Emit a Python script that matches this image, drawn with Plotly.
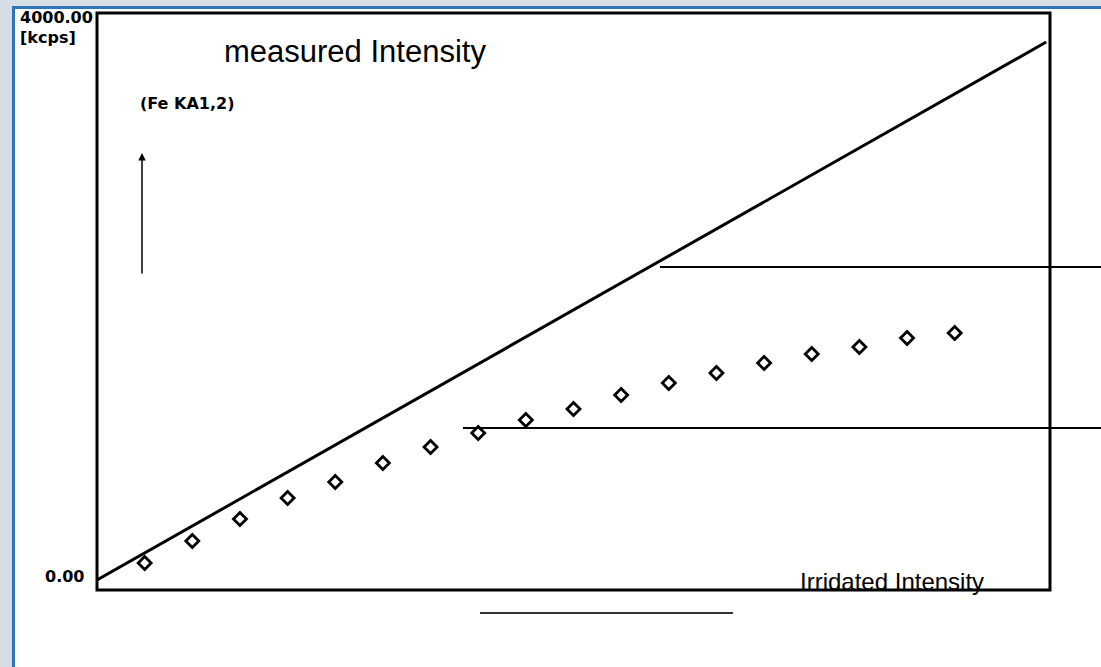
import plotly.graph_objects as go

# ---- data ----
irradiated = [5, 10, 15, 20, 25, 30, 35, 40, 45, 50, 55, 60, 65, 70, 75, 80, 85, 90]
measured = [120, 275, 430, 578, 691, 825, 938, 1037, 1129, 1206, 1305, 1390,
            1460, 1531, 1594, 1644, 1707, 1743]
ideal_x = [0, 99.6]
ideal_y = [0, 3795]

y_top_label = "4000.00"
y_unit_label = "[kcps]"
y_bottom_label = "0.00"

W, H = 1101, 667
L, R, T, B = 97, 1050, 13, 590  # plot box in pixels


def px(x):
    return (x - L) / (R - L)


def py(y):
    return (B - y) / (B - T)


fig = go.Figure()
fig.add_trace(go.Scatter(x=ideal_x, y=ideal_y, mode="lines",
                         line=dict(color="black", width=3), showlegend=False,
                         hoverinfo="skip"))
fig.add_trace(go.Scatter(x=irradiated, y=measured, mode="markers",
                         marker=dict(symbol="diamond-open", size=10, color="black",
                                     line=dict(width=2.8, color="black")),
                         showlegend=False))

shapes = []
# window frame (light strips and blue border)
shapes.append(dict(type="rect", xref="paper", yref="paper", x0=px(0), x1=px(12),
                   y0=py(H), y1=py(0), fillcolor="#d5dee6", line=dict(width=0), layer="below"))
shapes.append(dict(type="rect", xref="paper", yref="paper", x0=px(0), x1=px(W),
                   y0=py(6), y1=py(0), fillcolor="#d5dee6", line=dict(width=0), layer="below"))
shapes.append(dict(type="rect", xref="paper", yref="paper", x0=px(12), x1=px(15),
                   y0=py(H), y1=py(6), fillcolor="#2f74b8", line=dict(width=0), layer="below"))
shapes.append(dict(type="rect", xref="paper", yref="paper", x0=px(12), x1=px(W),
                   y0=py(9), y1=py(6), fillcolor="#2f74b8", line=dict(width=0), layer="below"))
# plot box
shapes.append(dict(type="rect", xref="paper", yref="paper", x0=0, x1=1, y0=0, y1=1,
                   line=dict(color="black", width=3)))
# leader lines to the right
shapes.append(dict(type="line", xref="paper", yref="paper", x0=px(660), x1=px(W),
                   y0=py(267), y1=py(267), line=dict(color="black", width=2)))
shapes.append(dict(type="line", xref="paper", yref="paper", x0=px(463), x1=px(W),
                   y0=py(428), y1=py(428), line=dict(color="black", width=2)))
# line below the plot
shapes.append(dict(type="line", xref="paper", yref="paper", x0=px(480), x1=px(733),
                   y0=py(613), y1=py(613), line=dict(color="#333333", width=2)))

bold = dict(family="DejaVu Sans", size=16, color="black")
annotations = [
    dict(text="<b>" + y_top_label + "</b>", x=px(18), y=py(17), xref="paper", yref="paper",
         xanchor="left", yanchor="middle", showarrow=False, font=bold),
    dict(text="<b>" + y_unit_label + "</b>", x=px(18), y=py(38), xref="paper", yref="paper",
         xanchor="left", yanchor="middle", showarrow=False, font=bold),
    dict(text="<b>" + y_bottom_label + "</b>", x=px(43), y=py(576), xref="paper", yref="paper",
         xanchor="left", yanchor="middle", showarrow=False, font=bold),
    dict(text="<b>(Fe KA1,2)</b>", x=px(138), y=py(103), xref="paper", yref="paper",
         xanchor="left", yanchor="middle", showarrow=False, font=bold),
    dict(text="measured Intensity", x=px(222), y=py(51), xref="paper", yref="paper",
         xanchor="left", yanchor="middle", showarrow=False,
         font=dict(family="Liberation Sans, Arial", size=31, color="black")),
    dict(text="Irridated Intensity", x=px(798), y=py(581), xref="paper", yref="paper",
         xanchor="left", yanchor="middle", showarrow=False,
         font=dict(family="Liberation Sans, Arial", size=24, color="black")),
    dict(text="", x=px(142), y=py(153), xref="paper", yref="paper", showarrow=True,
         ax=0, ay=122, arrowhead=2, arrowsize=1, arrowwidth=1.5, arrowcolor="black"),
]

fig.update_layout(
    width=W, height=H,
    margin=dict(l=L, r=W - R, t=T, b=H - B),
    paper_bgcolor="white", plot_bgcolor="white",
    xaxis=dict(range=[0, 100], visible=False, showgrid=False, zeroline=False),
    yaxis=dict(range=[-70.5, 4000], visible=False, showgrid=False, zeroline=False),
    shapes=shapes, annotations=annotations,
)

fig.write_html("out.html", config={"displayModeBar": False},
               post_script="document.body.style.margin='0px';")
